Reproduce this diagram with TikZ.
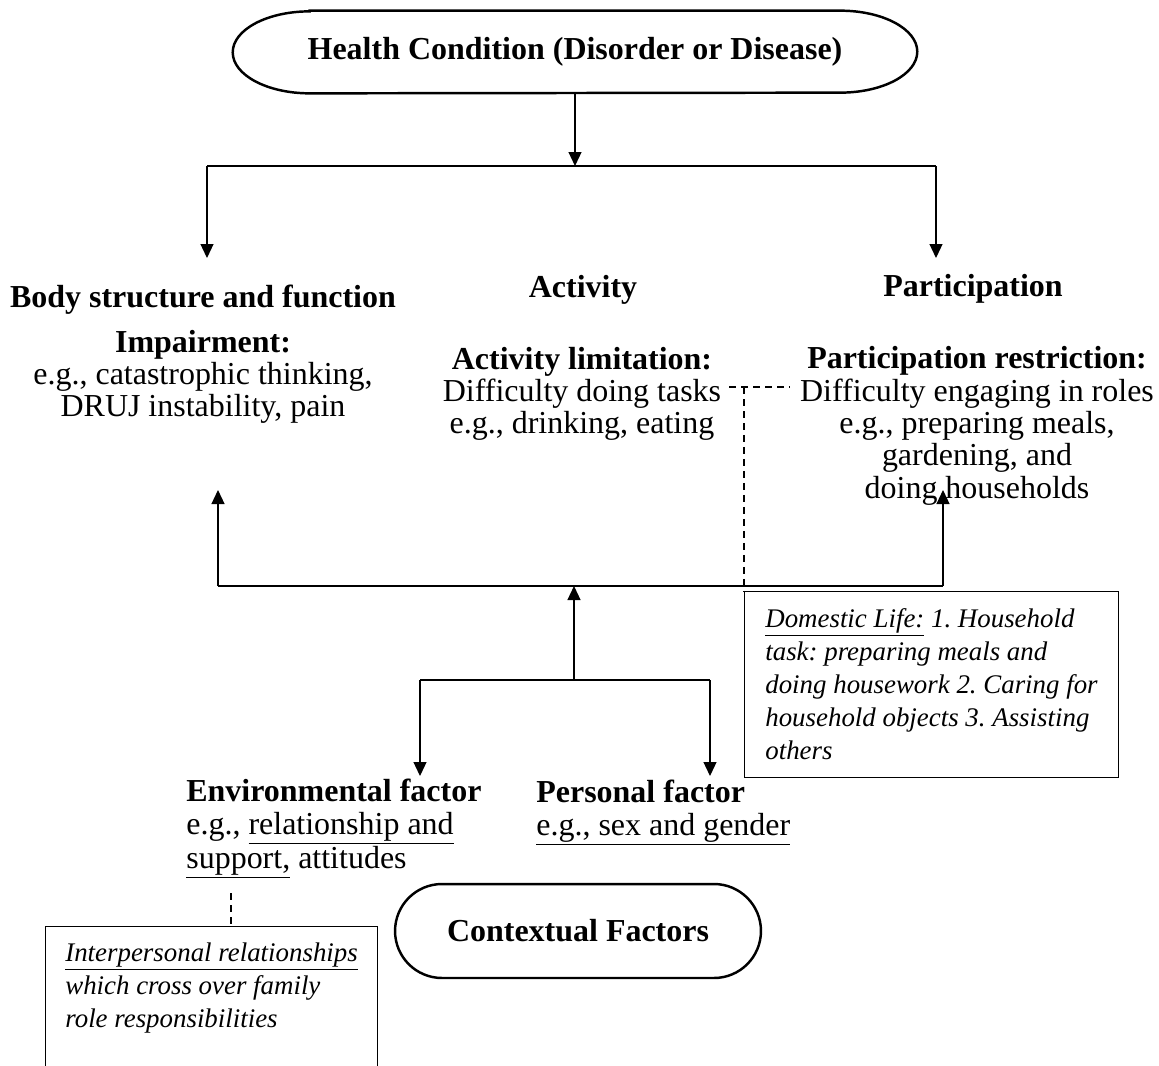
\documentclass[tikz,border=0pt]{standalone}
\usepackage{fontspec}
\setmainfont{Liberation Serif}
\usetikzlibrary{arrows.meta}
\newcommand{\undl}[1]{\underline{#1}}
\frenchspacing

\begin{document}
\begin{tikzpicture}[x=0.02cm, y=-0.02cm,
    conn/.style={line width=0.7pt},
    arr/.style={conn, -{Triangle[length=2.8mm, width=2.6mm]}},
    dashline/.style={line width=0.7pt, dash pattern=on 1.4mm off 1mm},
    main/.style={font=\fontsize{18.2}{18.4}\selectfont, inner sep=0pt},
    head/.style={inner sep=0pt, font=\fontsize{18.2}{18.4}\selectfont\bfseries},
    note/.style={font=\fontsize{15.3}{18.8}\selectfont\itshape, align=left, inner sep=0pt},
    pill/.style={line width=1.4pt}
]
    \useasboundingbox (0,0) rectangle (1159,1065);

    % Health condition
    \node[head, minimum width=13.68cm, minimum height=1.64cm] (hc) at (575,52) {Health Condition (Disorder or Disease)};
    \draw[pill] ([xshift=1.54cm]hc.north west) -- ([xshift=-1.54cm]hc.north east)
        arc[start angle=90, end angle=-90, x radius=1.54cm, y radius=0.82cm]
        -- ([xshift=1.54cm]hc.south west)
        arc[start angle=270, end angle=90, x radius=1.54cm, y radius=0.82cm] -- cycle;

    % Three components
    \node[head] (bsf) at (203,300) {Body structure and function};
    \node[head] (act) at (583,290) {Activity};
    \node[head] (par) at (973,289) {Participation};

    \node[main, align=center] (imp) at (203,377) {\textbf{Impairment:}\\e.g., catastrophic thinking,\\DRUJ instability, pain};
    \node[main, align=center] (actl) at (582,394) {\textbf{Activity limitation:}\\Difficulty doing tasks\\e.g., drinking, eating};
    \node[main, align=center] (parl) at (977,426) {\textbf{Participation restriction:}\\Difficulty engaging in roles\\e.g., preparing meals,\\gardening, and\\doing households};

    % Arrows from health condition
    \coordinate (hcj) at (575,166);
    \coordinate (hcl) at (207,166);
    \coordinate (hcr) at (936,166);
    \coordinate (bsfin) at (207,258);
    \coordinate (parin) at (936,258);
    \draw[arr] (hc) -- (hcj);
    \draw[conn] (hcl) -- (hcr);
    \draw[arr] (hcl) -- (bsfin);
    \draw[arr] (hcr) -- (parin);

    % Arrows from contextual factors
    \coordinate (cj) at (574,586);
    \coordinate (cl) at (218,586);
    \coordinate (cr) at (943,586);
    \coordinate (impin) at (218,490);
    \coordinate (parout) at (943,490);
    \draw[conn] (cl) -- (cr);
    \draw[arr] (cl) -- (impin);
    \draw[arr] (cr) -- (parout);

    \coordinate (fj) at (574,680);
    \coordinate (fl) at (420,680);
    \coordinate (fr) at (710,680);
    \coordinate (envin) at (420,776);
    \coordinate (persin) at (710,776);
    \draw[arr] (fj) -- (cj);
    \draw[conn] (fl) -- (fr);
    \draw[arr] (fl) -- (envin);
    \draw[arr] (fr) -- (persin);

    % Factors
    \node[main, anchor=west, align=left] (env) at (186,829) {\textbf{Environmental factor}\\e.g., \undl{relationship and}\\\undl{support,} attitudes};
    \node[main, anchor=west, align=left] (pers) at (536,813) {\textbf{Personal factor}\\\undl{e.g., sex and gender}};

    \node[head, draw, pill, rounded corners=0.94cm, minimum width=7.32cm, minimum height=1.88cm] (ctx) at (578,931) {Contextual Factors};

    % Domestic life note
    \node[draw, conn, anchor=north west, minimum width=7.48cm, minimum height=3.72cm] (dlbox) at (744,591) {};
    \node[note, anchor=west] (dltext) at (765,684) {\undl{Domestic Life:} 1. Household\\task: preparing meals and\\doing housework 2. Caring for\\household objects 3. Assisting\\others};
    \coordinate (dl) at (729,387);
    \coordinate (dr) at (790,387);
    \coordinate (dj) at (744,387);
    \draw[dashline] (dl) -- (dr);
    \draw[dashline] (dj) -- (dlbox.north west);

    % Interpersonal note
    \node[draw, conn, anchor=north west, minimum width=6.64cm, minimum height=3cm] (iprbox) at (45,926) {};
    \node[note, anchor=north west] (iprtext) at (65,942) {\undl{Interpersonal relationships}\\which cross over family\\role responsibilities};
    \coordinate (envd) at (231,893);
    \draw[dashline] (envd) -- (envd |- iprbox.north);
\end{tikzpicture}
\end{document}
